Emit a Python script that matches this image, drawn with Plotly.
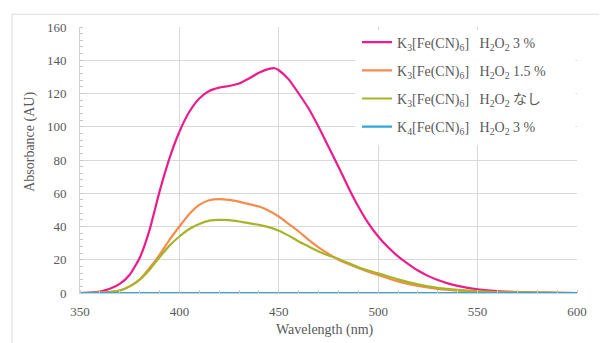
import plotly.graph_objects as go

wl_pink = [350, 355, 360, 365, 370, 375, 380, 385, 390, 395, 400, 405, 410, 415, 420, 425, 430, 435, 440, 445, 448, 450, 455, 460, 465, 470, 475, 480, 485, 490, 495, 500, 505, 510, 515, 520, 525, 530, 535, 540, 545, 550, 560, 570, 580, 590, 600]
h2o2_3 = [0, 0.2, 0.8, 2.5, 5.5, 11, 21, 38, 61, 81, 97, 109, 117, 121.5, 123.5, 124.5, 126, 129, 132.5, 134.8, 135.2, 134, 128.5, 120, 111, 100, 88, 76, 63.5, 52, 42, 34, 27.5, 22, 17.5, 13.5, 10.3, 7.8, 5.8, 4.3, 3.1, 2.2, 1.1, 0.6, 0.3, 0.1, 0]

wl_orange = [350, 360, 365, 370, 375, 380, 385, 390, 395, 400, 405, 410, 415, 420, 425, 430, 435, 440, 445, 450, 455, 460, 465, 470, 475, 480, 485, 490, 495, 500, 510, 520, 530, 540, 550, 560, 580, 600]
h2o2_15 = [0, 0.2, 0.6, 1.5, 4, 8, 15, 23, 32, 40, 47.5, 53, 55.8, 56.5, 56, 55, 53.5, 52, 49.5, 46, 41.5, 37, 32, 27.5, 23.5, 20, 17.5, 15, 12.8, 10.8, 7, 4.2, 2.4, 1.4, 0.8, 0.4, 0.1, 0]

wl_green = [350, 360, 365, 370, 375, 380, 385, 390, 395, 400, 405, 410, 415, 420, 425, 430, 435, 440, 445, 450, 455, 460, 465, 470, 475, 480, 485, 490, 495, 500, 510, 520, 530, 540, 550, 560, 580, 600]
h2o2_none = [0, 0.2, 0.6, 1.5, 4, 8, 14, 21.5, 28.5, 34, 38.5, 41.5, 43.5, 44, 43.8, 43, 42, 41, 39.6, 37.5, 34.5, 31, 28, 25, 22.5, 20.5, 18, 15.5, 13.5, 11.8, 8.2, 5.2, 3.1, 1.9, 1.2, 0.6, 0.2, 0]

wl_blue = [350, 400, 450, 500, 550, 600]
k4_h2o2_3 = [0, 0, 0, 0, 0, 0]

x_ticks = [350, 400, 450, 500, 550, 600]
y_ticks = [0, 20, 40, 60, 80, 100, 120, 140, 160]

S = "\u00a0"
names = [
    "K<sub>3</sub>[Fe(CN)<sub>6</sub>]" + S * 3 + "H<sub>2</sub>O<sub>2</sub> 3 %",
    "K<sub>3</sub>[Fe(CN)<sub>6</sub>]" + S * 3 + "H<sub>2</sub>O<sub>2</sub> 1.5 %",
    "K<sub>3</sub>[Fe(CN)<sub>6</sub>]" + S * 3 + "H<sub>2</sub>O<sub>2</sub> なし",
    "K<sub>4</sub>[Fe(CN)<sub>6</sub>]" + S * 3 + "H<sub>2</sub>O<sub>2</sub> 3 %",
]
colors = ["#EC1C8C", "#F58B4C", "#A8B428", "#2FA7D9"]
series = [(wl_pink, h2o2_3), (wl_orange, h2o2_15), (wl_green, h2o2_none), (wl_blue, k4_h2o2_3)]

fig = go.Figure()
for i, ((xs, ys), nm, c) in enumerate(zip(series, names, colors)):
    fig.add_trace(go.Scatter(x=xs, y=ys, name=nm, mode="lines",
                             line=dict(color=c, width=2.2, shape="spline", smoothing=0.5),
                             legendgroup=f"g{i}"))

FONT = "'Liberation Serif', 'DejaVu Serif', 'Noto Sans CJK JP', serif"
GRAY = "#595959"
# the page body has an 8px margin, so the figure is 8px smaller than the window
W, H = 599, 335
L, R, T, B = 72, 30, 14, 50
PW, PH = W - L - R, H - T - B  # 497 x 271
X0, X1, Y0, Y1 = 350, 600, 0, 160


def px(xp):
    return (xp - 8 - L) / PW


def py(yp):
    return (H - B - (yp - 8)) / PH


def dx(xp):
    return X0 + px(xp) * (X1 - X0)


def dy(yp):
    return Y0 + py(yp) * (Y1 - Y0)


fig.update_layout(
    width=W, height=H,
    margin=dict(l=L, r=R, t=T, b=B),
    paper_bgcolor="white", plot_bgcolor="white",
    font=dict(family=FONT, size=13, color=GRAY),
    showlegend=True,
    legend=dict(x=px(357), y=py(21.5), xanchor="left", yanchor="top",
                bgcolor="rgba(0,0,0,0)", borderwidth=0,
                font=dict(family=FONT, size=14, color=GRAY),
                tracegroupgap=7, itemwidth=30),
    xaxis=dict(range=[X0, X1], tickvals=x_ticks, ticktext=[str(v) for v in x_ticks],
               showgrid=True, gridcolor="#d9d9d9", gridwidth=1,
               showline=True, linecolor="#d0d0d0", zeroline=False,
               ticks="", ticklabelstandoff=6,
               minor=dict(dtick=10, ticks="inside", ticklen=3, tickcolor="#c8c8c8", showgrid=False),
               tickfont=dict(family=FONT, size=13, color=GRAY)),
    yaxis=dict(range=[Y0, Y1], tickvals=y_ticks, ticktext=[str(v) for v in y_ticks],
               showgrid=True, gridcolor="#d9d9d9", gridwidth=1,
               showline=True, linecolor="#d0d0d0", zeroline=False,
               ticks="", ticklabelstandoff=10,
               minor=dict(dtick=4, ticks="inside", ticklen=3, tickcolor="#c8c8c8", showgrid=False),
               tickfont=dict(family=FONT, size=13, color=GRAY)),
    annotations=[
        dict(text="Wavelength (nm)", xref="paper", yref="paper", x=px(325), y=py(331),
             xanchor="center", yanchor="middle", showarrow=False,
             font=dict(family=FONT, size=14, color=GRAY)),
        dict(text="Absorbance (AU)", xref="paper", yref="paper", x=px(30), y=py(139),
             xanchor="center", yanchor="middle", showarrow=False, textangle=-90,
             font=dict(family=FONT, size=14, color=GRAY)),
    ],
    shapes=[
        dict(type="rect", xref="paper", yref="paper",
             x0=px(12), x1=px(600), y0=-0.3, y1=py(9),
             line=dict(color="#dcdcdc", width=1), fillcolor="rgba(0,0,0,0)", layer="below"),
        dict(type="rect", xref="x", yref="y",
             x0=dx(355), x1=dx(575.5), y0=dy(142), y1=dy(25),
             line=dict(width=0), fillcolor="white", layer="between"),
    ],
)

fig.write_html("out.html")
